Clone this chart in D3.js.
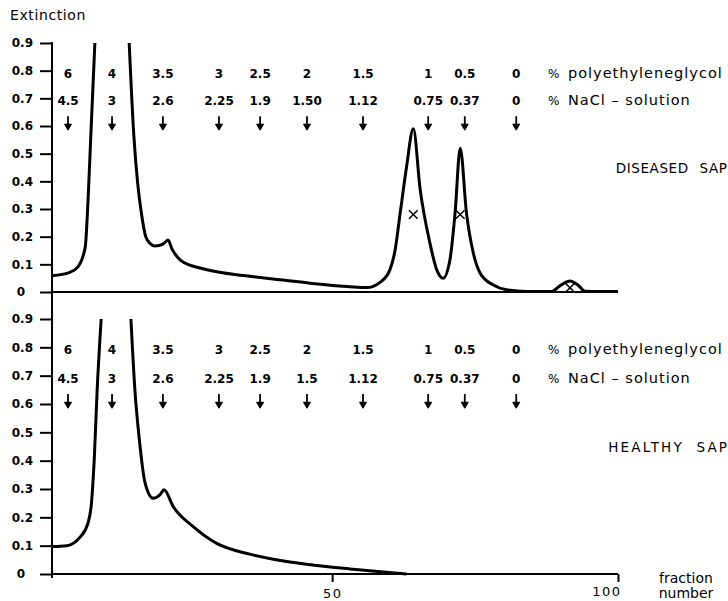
<!DOCTYPE html>
<html>
<head>
<meta charset="utf-8">
<script src="https://cdn.jsdelivr.net/npm/d3@7"></script>
<style>
  body { margin: 0; background: #fff; }
  svg { display: block; }
</style>
</head>
<body>
<svg id="chart"></svg>
<script>
// fraction number / extinction (null = off scale, above 0.9)
const diseasedFraction = [1, 4, 5.5, 6.8, 7.3, 7.8, 8.5, 11.5, 14.5, 15.3, 16, 16.6, 17.4, 18.2, 19, 20.4, 21.3, 22, 23.4, 25, 26.9, 29.8, 35.6, 41.4, 47, 53.1, 56, 58.4, 60.1, 61, 61.9, 63, 64.2, 65.4, 67.1, 68.3, 69.4, 70.6, 71.5, 72.4, 73.5, 74.7, 75.9, 78.2, 80.5, 84, 88.4, 90, 91.6, 93, 94.2, 97, 100];
const diseasedExtinction = [0.059, 0.07, 0.09, 0.16, 0.33, 0.57, 0.9, null, 0.9, 0.57, 0.39, 0.29, 0.2, 0.175, 0.166, 0.173, 0.188, 0.155, 0.116, 0.098, 0.087, 0.073, 0.057, 0.043, 0.03, 0.019, 0.016, 0.035, 0.08, 0.15, 0.285, 0.45, 0.59, 0.37, 0.177, 0.08, 0.05, 0.116, 0.285, 0.52, 0.285, 0.14, 0.068, 0.025, 0.008, 0.002, 0.002, 0.025, 0.04, 0.025, 0.003, 0.002, 0.002];

const healthyFraction = [1, 3.6, 5.9, 7.3, 7.9, 8.4, 8.9, 9.6, 12, 14.8, 15.5, 16.3, 17.3, 18.7, 19.9, 20.6, 22.2, 25.7, 29.8, 35.6, 41.5, 47.3, 53.1, 59, 63];
const healthyExtinction = [0.097, 0.1, 0.13, 0.18, 0.25, 0.41, 0.65, 0.9, null, 0.9, 0.65, 0.47, 0.32, 0.267, 0.28, 0.297, 0.238, 0.167, 0.108, 0.07, 0.046, 0.03, 0.018, 0.007, 0];

// crosses on the diseased peaks
const crossFraction = [64.2, 72.4, 91.6];
const crossExtinction = [0.28, 0.28, 0.015];

// elution steps (arrows) and their concentrations
const stepFraction = [3.8, 11.5, 20.4, 30.2, 37.4, 45.6, 55.4, 66.8, 73.2, 82.2];
const pegLabels = ['6', '4', '3.5', '3', '2.5', '2', '1.5', '1', '0.5', '0'];
const naclLabelsDiseased = ['4.5', '3', '2.6', '2.25', '1.9', '1.50', '1.12', '0.75', '0.37', '0'];
const naclLabelsHealthy = ['4.5', '3', '2.6', '2.25', '1.9', '1.5', '1.12', '0.75', '0.37', '0'];

const yTicks = [0, 0.1, 0.2, 0.3, 0.4, 0.5, 0.6, 0.7, 0.8, 0.9];
const xTicks = [50, 100];

const width = 728, height = 601;
const numFont = 'DejaVu Sans';
const textFont = 'DejaVu Sans';

const svg = d3.select('#chart')
    .attr('width', width)
    .attr('height', height)
    .style('background', '#fff');

const x = d3.scaleLinear().domain([1, 100]).range([52, 618]);
const yTop = d3.scaleLinear().domain([0, 0.9]).range([292, 43]);
const yBottom = d3.scaleLinear().domain([0, 0.9]).range([574, 319]);

// continuous left axis line through both panels
svg.append('line')
    .attr('x1', x(1)).attr('x2', x(1))
    .attr('y1', yTop(0.9) - 1).attr('y2', yBottom(0) + 4)
    .attr('stroke', '#000').attr('stroke-width', 2);

svg.append('text')
    .attr('x', 10).attr('y', 20)
    .attr('font-family', textFont).attr('font-size', 14)
    .attr('letter-spacing', 0.6)
    .text('Extinction');

const drawPanel = (y, fractions, values, naclLabels, title, titleSpacing) => {
    const g = svg.append('g');

    const yAxis = d3.axisLeft(y)
        .tickValues(yTicks)
        .tickSize(12)
        .tickPadding(7)
        .tickFormat((d) => d === 0 ? '0' : d3.format('.1f')(d));
    const ax = g.append('g')
        .attr('transform', 'translate(' + x(1) + ',0)')
        .call(yAxis);
    ax.select('.domain').remove();
    ax.selectAll('.tick line').attr('stroke', '#000').attr('stroke-width', 2);
    ax.selectAll('.tick text')
        .attr('fill', '#000')
        .attr('font-family', numFont)
        .attr('font-weight', 'bold')
        .attr('font-size', 12);
    ax.selectAll('.tick').filter((d) => d === 0).select('text').attr('x', -27);

    const points = fractions.map((f, i) => ({ f: f, v: values[i] }));
    const line = d3.line()
        .defined((d) => d.v !== null)
        .x((d) => x(d.f))
        .y((d) => y(d.v))
        .curve(d3.curveMonotoneX);
    g.append('path')
        .datum(points)
        .attr('d', line)
        .attr('fill', 'none')
        .attr('stroke', '#000')
        .attr('stroke-width', 3)
        .attr('stroke-linejoin', 'round');

    // concentration rows
    const rows = [pegLabels, naclLabels];
    const rowLevel = [0.775, 0.675];
    rows.forEach((labels, r) => {
        g.selectAll(null)
            .data(labels)
            .enter()
            .append('text')
            .attr('x', (d, i) => x(stepFraction[i]))
            .attr('y', y(rowLevel[r]))
            .attr('text-anchor', 'middle')
            .attr('font-family', numFont)
            .attr('font-weight', 'bold')
            .attr('font-size', 12)
            .text((d) => d);
    });

    // arrows
    const arrows = g.selectAll(null)
        .data(stepFraction)
        .enter()
        .append('g')
        .attr('transform', (d) => 'translate(' + x(d) + ',0)');
    arrows.append('line')
        .attr('x1', 0).attr('x2', 0)
        .attr('y1', y(0.635)).attr('y2', y(0.585) - 2)
        .attr('stroke', '#000').attr('stroke-width', 1.8);
    arrows.append('path')
        .attr('d', 'M-3.5,' + (y(0.585) - 6) + 'L0,' + y(0.585) + 'L3.5,' + (y(0.585) - 6) + 'Z')
        .attr('fill', '#000')
        .attr('stroke', '#000').attr('stroke-width', 1);

    // legend
    const legend = ['polyethyleneglycol', 'NaCl \u2013 solution'];
    legend.forEach((t, r) => {
        g.append('text')
            .attr('x', 548).attr('y', y(rowLevel[r]))
            .attr('font-family', textFont).attr('font-size', 12)
            .text('%');
        g.append('text')
            .attr('x', 568).attr('y', y(rowLevel[r]))
            .attr('font-family', textFont).attr('font-size', 14.5)
            .attr('letter-spacing', 1.0)
            .text(t);
    });

    g.append('text')
        .attr('x', 727 + titleSpacing).attr('y', y(0.43))
        .attr('text-anchor', 'end')
        .attr('font-family', textFont).attr('font-size', 13.5)
        .attr('letter-spacing', titleSpacing)
        .attr('word-spacing', 6)
        .text(title);

    return g;
};

const topPanel = drawPanel(yTop, diseasedFraction, diseasedExtinction, naclLabelsDiseased, 'DISEASED SAP', 0.6);
const bottomPanel = drawPanel(yBottom, healthyFraction, healthyExtinction, naclLabelsHealthy, 'HEALTHY SAP', 2.2);

// baseline of the upper panel
svg.append('line')
    .attr('x1', x(1)).attr('x2', x(100))
    .attr('y1', yTop(0)).attr('y2', yTop(0))
    .attr('stroke', '#000').attr('stroke-width', 2);

topPanel.selectAll(null)
    .data(crossFraction)
    .enter()
    .append('path')
    .attr('d', d3.symbol(d3.symbolTimes, 50))
    .attr('transform', (d, i) => 'translate(' + x(d) + ',' + yTop(crossExtinction[i]) + ')')
    .attr('stroke', '#000')
    .attr('stroke-width', 1.5)
    .attr('fill', 'none');

// fraction axis
const xAxis = d3.axisBottom(x)
    .tickValues(xTicks)
    .tickSize(8)
    .tickPadding(7)
    .tickFormat(d3.format('d'));
const xg = svg.append('g')
    .attr('transform', 'translate(0,' + yBottom(0) + ')')
    .call(xAxis);
xg.select('.domain').remove();
xg.selectAll('.tick line').attr('stroke', '#000').attr('stroke-width', 2);
xg.selectAll('.tick text')
    .attr('fill', '#000')
    .attr('font-family', textFont)
    .attr('font-size', 13)
    .attr('letter-spacing', 1.5);
xg.selectAll('.tick').filter((d) => d === 100).select('text')
    .attr('text-anchor', 'end').attr('x', 3).attr('dy', '0.55em');
svg.append('line')
    .attr('x1', x(1)).attr('x2', x(100))
    .attr('y1', yBottom(0)).attr('y2', yBottom(0))
    .attr('stroke', '#000').attr('stroke-width', 2);

svg.append('text')
    .attr('x', 686).attr('y', 583)
    .attr('text-anchor', 'middle')
    .attr('font-family', textFont).attr('font-size', 14)
    .text('fraction');
svg.append('text')
    .attr('x', 686).attr('y', 598)
    .attr('text-anchor', 'middle')
    .attr('font-family', textFont).attr('font-size', 14)
    .text('number');
</script>
</body>
</html>
